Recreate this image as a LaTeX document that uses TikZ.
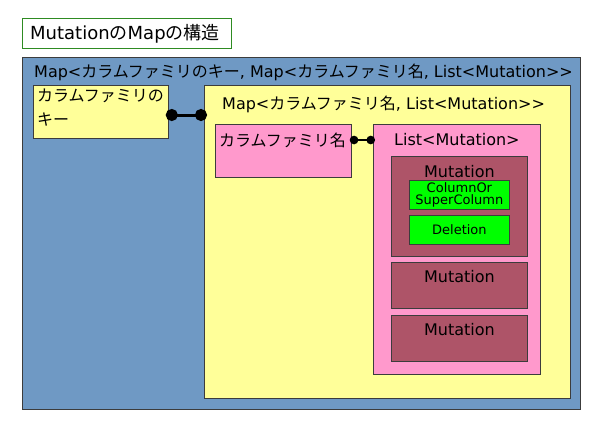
\documentclass[tikz,border=0pt]{standalone}
\usepackage{fontspec}
\setmainfont{DejaVu Sans}
\newfontfamily\jp{Noto Sans CJK JP}
\usetikzlibrary{arrows.meta,positioning}
\definecolor{mapblue}{HTML}{6F99C4}
\definecolor{mapyellow}{HTML}{FFFF99}
\definecolor{mappink}{HTML}{FF99CC}
\definecolor{mutred}{HTML}{AE5468}
\definecolor{colgreen}{HTML}{00FF00}
\definecolor{titlegreen}{HTML}{2E8B22}
\definecolor{edgegray}{HTML}{3C3C3C}

\begin{document}
\begin{tikzpicture}[
  x=1pt, y=-1pt,
  box/.style={draw=edgegray, line width=.8pt, anchor=north west, inner sep=0pt},
  lbl/.style={font=\fontsize{16}{24}\selectfont, inner sep=0pt, align=left},
  small/.style={font=\fontsize{13}{12}\selectfont, inner sep=0pt, align=center},
  link/.style={line width=3pt, shorten <=-3pt, shorten >=-3pt, {Circle[length=12pt]}-{Circle[length=12pt]}},
  link2/.style={line width=2pt, shorten <=-2pt, shorten >=-2pt, {Circle[length=8.5pt]}-{Circle[length=8.5pt]}}
]
\useasboundingbox (0,0) rectangle (600,424);

% title
\node[draw=titlegreen, line width=1.2pt, anchor=north west, minimum width=209pt, minimum height=30pt, inner sep=0pt] (title) at (22,18) {};
\node[lbl, font=\fontsize{18}{20}\selectfont, anchor=west] (titletext) at ([xshift=8pt]title.west) {Mutation{\jp の}Map{\jp の構造}};

% boxes
\node[box, fill=mapblue, line width=1pt, minimum width=558pt, minimum height=352pt] (outer) at (22,57) {};
\node[box, fill=mapyellow, minimum width=135pt, minimum height=53pt] (keybox) at (33,85) {};
\node[box, fill=mapyellow, minimum width=366pt, minimum height=313pt] (mapbox) at (204,85) {};
\node[box, fill=mappink, minimum width=136pt, minimum height=53pt] (namebox) at (215,124) {};
\node[box, fill=mappink, minimum width=167pt, minimum height=250pt] (listbox) at (373,124) {};
\node[box, fill=mutred, minimum width=136pt, minimum height=100pt] (mut1) at (391,156) {};
\node[box, fill=mutred, minimum width=136pt, minimum height=46pt] (mut2) at (391,262) {};
\node[box, fill=mutred, minimum width=136pt, minimum height=46pt] (mut3) at (391,315) {};
\node[box, fill=colgreen, minimum width=100pt, minimum height=29pt] (colbox) at (409,180) {};
\node[box, fill=colgreen, minimum width=100pt, minimum height=29pt] (delbox) at (409,215) {};

% labels
\node[lbl, anchor=west] (outertext) at ([xshift=12pt, yshift=-15pt]outer.north west) {Map<{\jp カラムファミリのキー}, Map<{\jp カラムファミリ名}, List<Mutation>{}>};
\node[lbl, anchor=north west] (keytext) at ([xshift=4pt, yshift=-4pt]keybox.north west) {\jp カラムファミリの\\\jp キー};
\node[lbl, anchor=west] (maptext) at ([xshift=18pt, yshift=-19pt]mapbox.north west) {Map<{\jp カラムファミリ名}, List<Mutation>{}>};
\node[lbl, anchor=west] (nametext) at ([xshift=4pt, yshift=-16pt]namebox.north west) {\jp カラムファミリ名};
\node[lbl, anchor=center] (listtext) at ([yshift=-16pt]listbox.north) {List<Mutation>};
\node[lbl, anchor=center] (mut1text) at ([yshift=-16pt]mut1.north) {Mutation};
\node[lbl, anchor=center] (mut2text) at ([yshift=-15pt]mut2.north) {Mutation};
\node[lbl, anchor=center] (mut3text) at ([yshift=-15pt]mut3.north) {Mutation};
\node[small] (coltext) at (colbox.center) {ColumnOr\\SuperColumn};
\node[small] (deltext) at (delbox.center) {Deletion};

% connectors
\draw[link] ([yshift=-30pt]keybox.north east) -- ([yshift=-30pt]mapbox.north west);
\draw[link2] ([yshift=-16pt]namebox.north east) -- ([yshift=-16pt]listbox.north west);
\end{tikzpicture}
\end{document}
